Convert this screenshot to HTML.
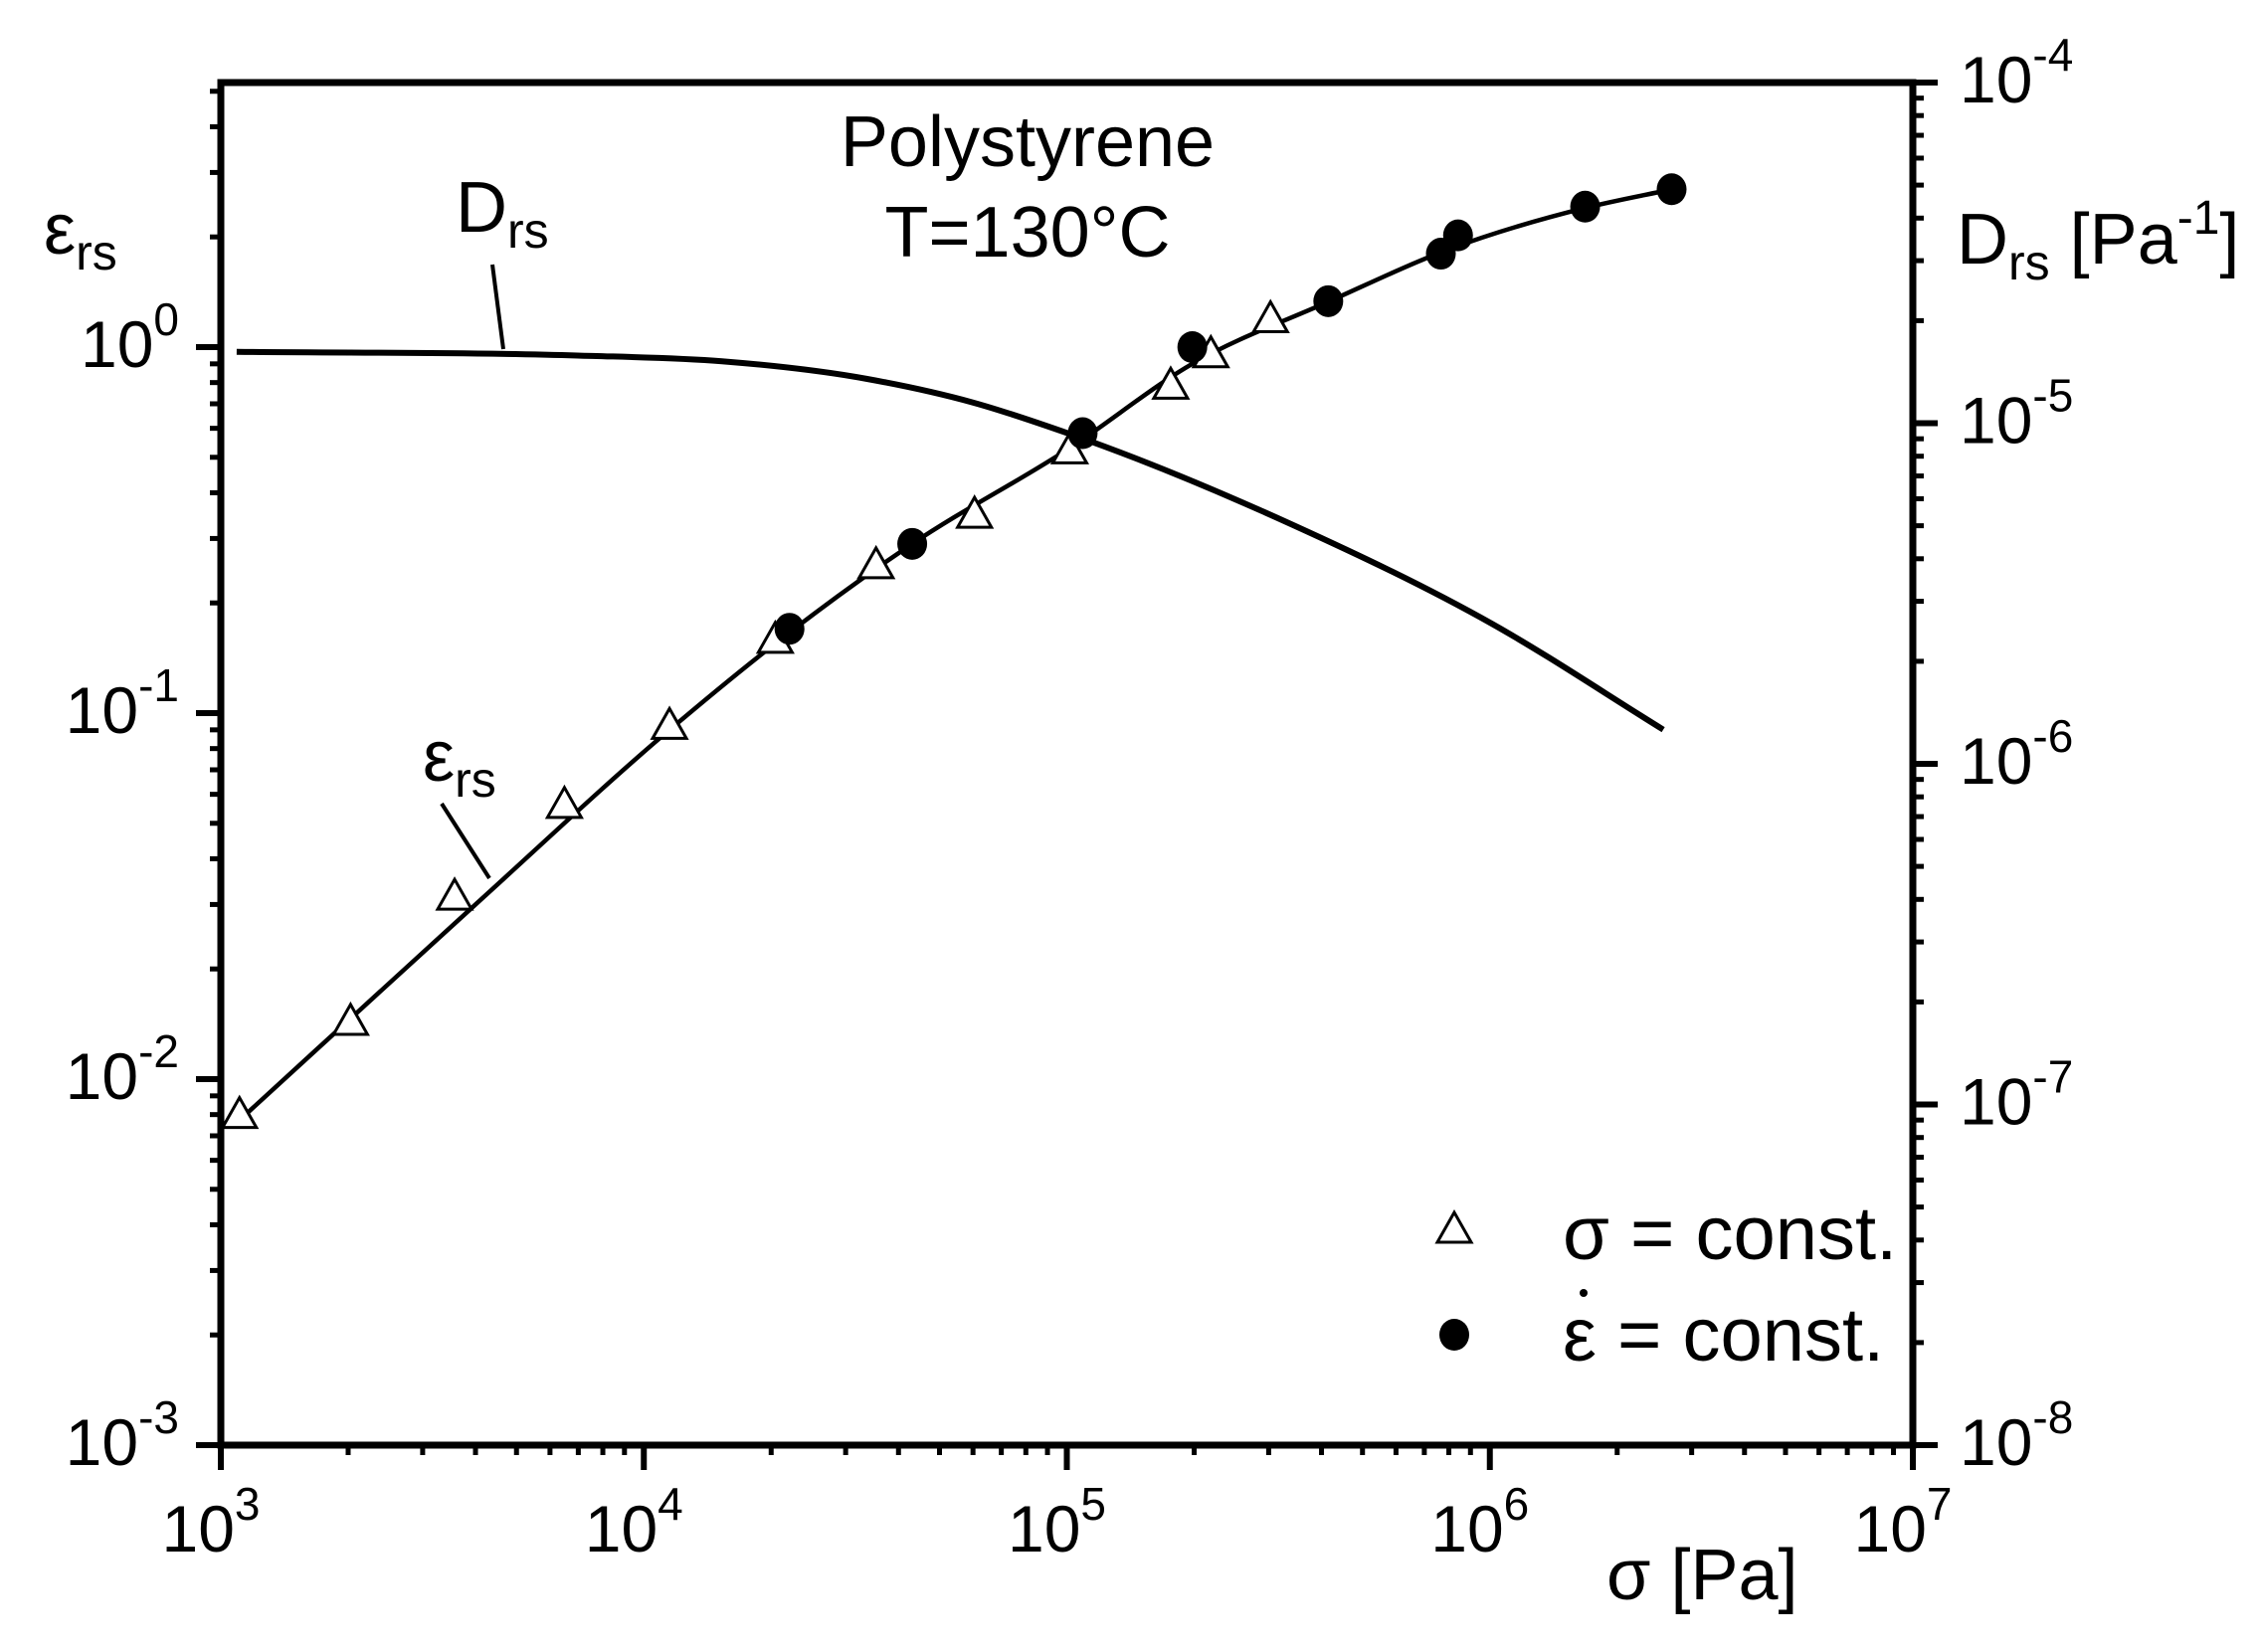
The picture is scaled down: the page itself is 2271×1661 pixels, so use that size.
<!DOCTYPE html>
<html><head><meta charset="utf-8"><style>
body{margin:0;background:#fff}
svg text{font-family:"Liberation Sans",sans-serif;fill:#000}
</style></head><body>
<svg id="chart" width="2271" height="1656" viewBox="0 0 2271 1656" xmlns="http://www.w3.org/2000/svg">
<g id="g"></g>
</svg>
<script>
const xTicks=[3,4,5,6,7];
const yLeftTicks=[-3,-2,-1,0];
const yRightTicks=[-8,-7,-6,-5,-4];
const triSigma=[1107,2026,3570,6490,11500,20450,35400,60500,101600,176000,219000,303000];
const triEps=[0.0079,0.0142,0.0312,0.0556,0.0914,0.157,0.251,0.345,0.517,0.777,0.947,1.18];
const dotSigma=[22100,43100,109000,198000,415000,766000,841000,1680000,2690000];
const dotEps=[0.170,0.290,0.582,1.0,1.335,1.80,2.02,2.42,2.70];
const epsCurveSigma=[1090,4000,11500,20450,43100,101600,198000,415000,800000,1680000,2700000];
const epsCurveVal=[0.0076,0.030,0.090,0.155,0.29,0.53,0.9,1.33,1.85,2.4,2.7];
const dCurveSigma=[1090,6970,15300,33600,60000,101600,343000,1010000,2570000];
const dCurveVal=[1.62e-5,1.58e-5,1.52e-5,1.35e-5,1.15e-5,9.3e-6,5.02e-6,2.58e-6,1.26e-6];

const X0=222,X1=1923,YB=1453,YT=83;
const sx=v=>X0+(Math.log10(v)-3)/4*(X1-X0);
const syL=v=>YB-(Math.log10(v)+3)*368;
const syR=v=>YB-(Math.log10(v)+8)/4*(YB-YT);
const g=document.getElementById('g');
const NS='http://www.w3.org/2000/svg';
function mk(t,a,p){const e=document.createElementNS(NS,t);for(const k in a)e.setAttribute(k,a[k]);(p||g).appendChild(e);return e;}
function line(x1,y1,x2,y2,w){return mk('line',{x1,y1,x2,y2,stroke:'#000','stroke-width':w});}

const fr=mk('rect',{x:X0,y:YT,width:X1-X0,height:YB-YT,fill:'none',stroke:'#000','stroke-width':7});



const TF=66,SF=46;
xTicks.forEach((d,i)=>{
  const x=sx(Math.pow(10,d));
  line(x,YB,x,YB+25,6);
  const t=mk('text',{x:x-10,y:1560,'font-size':TF,'text-anchor':'middle'});
  
  
  t.innerHTML='10<tspan dy="-32" font-size="'+SF+'">'+d+'</tspan>';
  if(i<xTicks.length-1) for(let m=2;m<10;m++){const xm=sx(m*Math.pow(10,d));line(xm,YB,xm,YB+10,5);}
});
yLeftTicks.forEach(d=>{
  const y=syL(Math.pow(10,d));
  line(X0-25,y,X0,y,6);
  const t=mk('text',{x:180,y:y+20,'font-size':TF,'text-anchor':'end'});
  
  
  t.innerHTML='10<tspan dy="-32" font-size="'+SF+'">'+d+'</tspan>';
  for(let m=2;m<10;m++){const ym=syL(m*Math.pow(10,d));if(ym>YT)line(X0-11,ym,X0,ym,5);}
});
yRightTicks.forEach((d,i)=>{
  const y=syR(Math.pow(10,d));
  line(X1,y,X1+25,y,6);
  const t=mk('text',{x:1970,y:y+20,'font-size':TF});
  
  
  t.innerHTML='10<tspan dy="-32" font-size="'+SF+'">'+d+'</tspan>';
  if(i<yRightTicks.length-1) for(let m=2;m<10;m++){const ym=syR(m*Math.pow(10,d));line(X1,ym,X1+11,ym,5);}
});

function curve(xs,ys,fy,w,name){
  const P=xs.map((v,i)=>[sx(v),fy(ys[i])]);
  const n=P.length, m=[];
  const sec=[];for(let i=0;i<n-1;i++)sec.push((P[i+1][1]-P[i][1])/(P[i+1][0]-P[i][0]));
  for(let i=0;i<n;i++){
    if(i===0)m.push(sec[0]);else if(i===n-1)m.push(sec[n-2]);
    else{const h0=P[i][0]-P[i-1][0],h1=P[i+1][0]-P[i][0];m.push((sec[i-1]*h1+sec[i]*h0)/(h0+h1));}
  }
  let d='M'+P[0][0]+','+P[0][1];
  for(let i=0;i<n-1;i++){
    const h=P[i+1][0]-P[i][0];
    d+=' C'+(P[i][0]+h/3)+','+(P[i][1]+m[i]*h/3)+' '+(P[i+1][0]-h/3)+','+(P[i+1][1]-m[i+1]*h/3)+' '+P[i+1][0]+','+P[i+1][1];
  }
  const e=mk('path',{d,fill:'none',stroke:'#000','stroke-width':w});
  
  
}
curve(epsCurveSigma,epsCurveVal,syL,4.5,'eps-rs-curve');
curve(dCurveSigma,dCurveVal,syR,6,'d-rs-curve');

function tri(x,y,name){
  const e=mk('polygon',{points:(x)+','+(y-19)+' '+(x-17)+','+(y+11)+' '+(x+17)+','+(y+11),fill:'#fff',stroke:'#000','stroke-width':3});
  
  
}
function dot(x,y,name){
  const e=mk('ellipse',{cx:x,cy:y,rx:15,ry:16,fill:'#000'});
  
  
}
triSigma.forEach((s,i)=>tri(sx(s),syL(triEps[i]),'triangle-point'));
dotSigma.forEach((s,i)=>dot(sx(s),syL(dotEps[i]),'circle-point'));

line(495,266,506,351,4);
line(444,808,492,883,4);
function txt(x,y,html,size,name,anchor){
  const t=mk('text',{x,y,'font-size':size,'text-anchor':anchor||'start'});
  
  
  t.innerHTML=html;return t;
}
txt(1033,167,'Polystyrene',72,'title-line1','middle');
txt(1033,258,'T=130°C',72,'title-line2','middle');
txt(458,233,'D<tspan font-size="50" dy="16">rs</tspan>',72,'d-rs-label');
txt(425,785,'ε<tspan font-size="50" dy="16">rs</tspan>',72,'eps-rs-label');
txt(44,255,'ε<tspan font-size="50" dy="16">rs</tspan>',72,'y-left-title');
txt(1967,265,'D<tspan font-size="50" dy="16">rs</tspan><tspan dy="-16"> [Pa</tspan><tspan font-size="48" dy="-30">-1</tspan><tspan dy="30">]</tspan>',72,'y-right-title');
txt(1615,1608,'σ [Pa]',72,'x-axis-title');
tri(1462,1238,'legend-triangle');
txt(1571,1266,'σ = const.',76,'legend-sigma-text');
dot(1462,1342,'legend-circle');
txt(1571,1368,'ε = const.',76,'legend-epsdot-text');
mk('circle',{cx:1592,cy:1300,r:4,fill:'#000'});
</script>
</body></html>
